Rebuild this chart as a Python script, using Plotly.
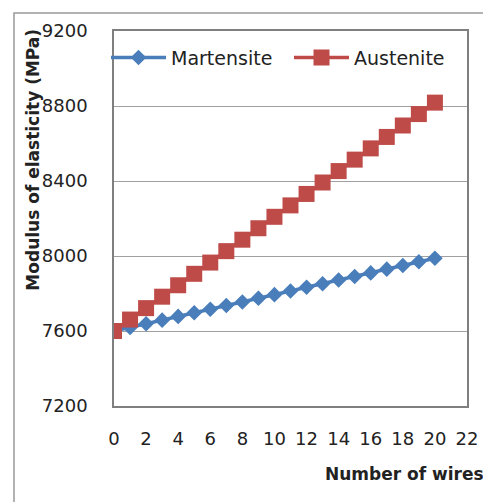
import plotly.graph_objects as go

wires = list(range(0, 21))
martensite = [7600, 7619, 7639, 7658, 7678, 7697, 7716, 7736, 7755, 7775, 7794,
              7813, 7833, 7852, 7872, 7891, 7910, 7930, 7949, 7969, 7988]
austenite = [7600, 7661, 7722, 7783, 7844, 7905, 7965, 8026, 8087, 8148, 8209,
             8270, 8331, 8392, 8453, 8514, 8574, 8635, 8696, 8757, 8818]
x_ticks = list(range(0, 23, 2))
y_ticks = [7200, 7600, 8000, 8400, 8800, 9200]

FONT = "DejaVu Sans"
BLUE = "#4A7EBB"
RED = "#BE4B48"

# figure sits at (8, 8) in the page (body margin)
W, H = 483, 494
L, R, T, B = 106, 24, 19, 96
PW, PH = W - L - R, H - T - B


def px(x):
    return (x - L) / PW


def py(y):
    return (H - B - y) / PH


fig = go.Figure()
fig.add_trace(go.Scatter(x=wires, y=martensite, name="Martensite", mode="lines+markers",
                         line=dict(color=BLUE, width=3.5),
                         marker=dict(symbol="diamond", size=12, color=BLUE),
                         legend="legend"))
fig.add_trace(go.Scatter(x=wires, y=austenite, name="Austenite", mode="lines+markers",
                         line=dict(color=RED, width=3.5),
                         marker=dict(symbol="square", size=16, color=RED),
                         legend="legend2"))

leg_common = dict(orientation="h", yanchor="middle", y=py(46),
                  bgcolor="rgba(0,0,0,0)", font=dict(size=19, family=FONT, color="#222"),
                  itemwidth=55, xanchor="left")

fig.update_layout(
    width=W, height=H,
    margin=dict(l=L, r=R, t=T, b=B),
    paper_bgcolor="white", plot_bgcolor="white",
    font=dict(family=FONT, size=18, color="#222"),
    showlegend=True,
    legend=dict(x=px(98), **leg_common),
    legend2=dict(x=px(281), **leg_common),
    xaxis=dict(range=[0, 22], tickvals=x_ticks, showgrid=False, zeroline=False,
               showline=True, linecolor="#7f7f7f", linewidth=1.5, mirror=True,
               ticks="", ticklabelstandoff=16, tickfont=dict(size=18)),
    yaxis=dict(range=[7200, 9200], tickvals=y_ticks, showgrid=True, gridcolor="#a0a0a0",
               gridwidth=1.2, zeroline=False, showline=True, linecolor="#7f7f7f",
               linewidth=1.5, mirror=True, ticks="", ticklabelstandoff=21,
               tickfont=dict(size=18)),
    annotations=[
        dict(text="<b>Modulus of elasticity (MPa)</b>", xref="paper", yref="paper",
             x=px(25), y=py(149), textangle=-90,
             showarrow=False, font=dict(size=17, color="#222"),
             xanchor="center", yanchor="middle"),
        dict(text="<b>Number of wires</b>", xref="paper", yref="paper",
             x=px(478), y=py(467), showarrow=False,
             font=dict(size=17, color="#222"), xanchor="right", yanchor="middle"),
    ],
    shapes=[
        dict(type="rect", xref="paper", yref="paper",
             x0=px(6), x1=px(520), y0=py(530), y1=py(0.8),
             line=dict(color="#999", width=1.5), layer="below"),
    ],
)

fig.write_html("out.html")
